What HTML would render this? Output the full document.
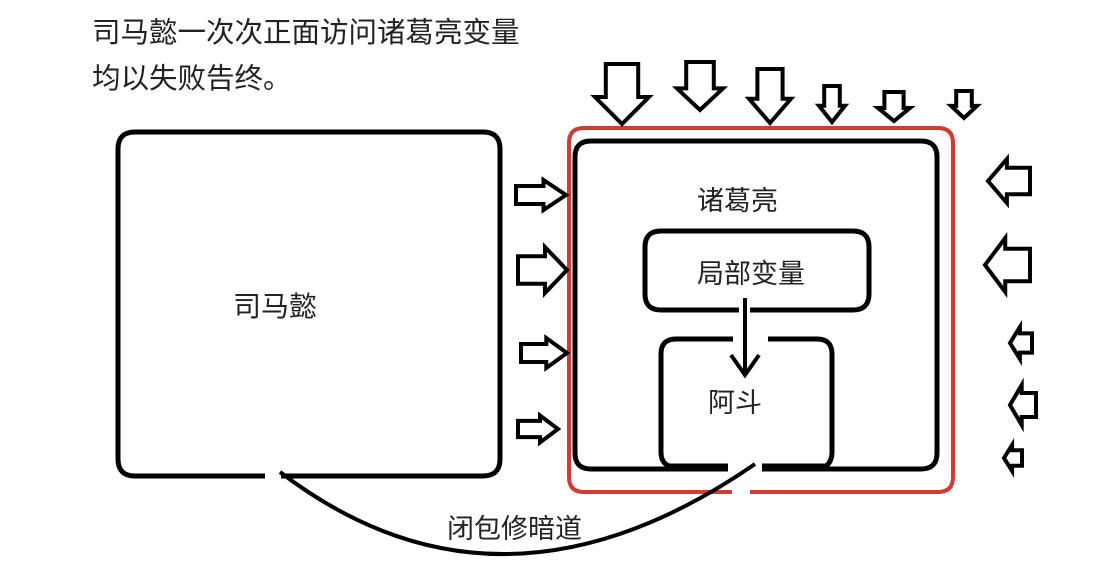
<!DOCTYPE html>
<html><head><meta charset="utf-8"><style>
html,body{margin:0;padding:0;background:#fff;width:1098px;height:587px;overflow:hidden}
text{font-family:"Liberation Sans","Noto Sans CJK SC",sans-serif;fill:#222}
</style></head><body>
<svg width="1098" height="587" viewBox="0 0 1098 587" xmlns="http://www.w3.org/2000/svg">
<defs>
<polygon id="ar" points="0,-0.3 0.55,-0.3 0.55,-0.5 1,0 0.55,0.5 0.55,0.3 0,0.3" fill="#fff" stroke="#000" stroke-width="4" vector-effect="non-scaling-stroke" stroke-linejoin="miter"/>
</defs>
<text x="92" y="42" font-size="28.5">司马懿一次次正面访问诸葛亮变量</text>
<text x="92" y="88" font-size="28.5">均以失败告终。</text>

<!-- left box -->
<path d="M265,476 H135 Q118,476 118,459 V149 Q118,132 135,132 H483 Q500,132 500,149 V459 Q500,476 483,476 H281" fill="none" stroke="#000" stroke-width="5"/>
<text x="275" y="316" font-size="28" text-anchor="middle">司马懿</text>

<!-- red box -->
<path d="M732,492 H584 Q569,492 569,477 V143 Q569,128 584,128 H938 Q953,128 953,143 V477 Q953,492 938,492 H750" fill="none" stroke="#d33a31" stroke-width="4"/>
<!-- black box -->
<path d="M728,469 H591 Q575,469 575,453 V157 Q575,141 591,141 H921 Q937,141 937,157 V453 Q937,469 921,469 H762" fill="none" stroke="#000" stroke-width="5"/>
<line x1="665" y1="467" x2="728" y2="467" stroke="#000" stroke-width="7"/>
<line x1="762" y1="467" x2="825" y2="467" stroke="#000" stroke-width="7"/>
<text x="697" y="210" font-size="27">诸葛亮</text>

<!-- local var box -->
<path d="M739,310 H661 Q645,310 645,294 V247 Q645,231 661,231 H853 Q869,231 869,247 V294 Q869,310 853,310 H750" fill="none" stroke="#000" stroke-width="5"/>
<text x="751" y="283" font-size="27" text-anchor="middle">局部变量</text>

<!-- adou box -->
<path d="M733,339 H676 Q661,339 661,354 V452 Q661,467 676,467 M825,467 Q832,462 832,452 V354 Q832,339 817,339 H768" fill="none" stroke="#000" stroke-width="5"/>
<text x="735" y="412" font-size="27" text-anchor="middle">阿斗</text>

<!-- down arrow -->
<line x1="745" y1="298" x2="745" y2="372" stroke="#000" stroke-width="4"/>
<polyline points="731,355 745,375 759,355" fill="none" stroke="#000" stroke-width="4"/>

<!-- curve -->
<path d="M280,472 Q500,640 755,464" fill="none" stroke="#000" stroke-width="4"/>
<text x="447" y="538" font-size="27">闭包修暗道</text>

<!-- left-side right arrows -->
<use href="#ar" transform="translate(516,195) scale(50,30)"/>
<use href="#ar" transform="translate(518,270) scale(49,46)"/>
<use href="#ar" transform="translate(521,353) scale(46,30)"/>
<use href="#ar" transform="translate(518,429) scale(40,27)"/>

<!-- top down arrows -->
<use href="#ar" transform="translate(622,64) rotate(90) scale(60,54)"/>
<use href="#ar" transform="translate(700,62) rotate(90) scale(48,46)"/>
<use href="#ar" transform="translate(770,69) rotate(90) scale(54,42)"/>
<use href="#ar" transform="translate(832,86) rotate(90) scale(36,26)"/>
<use href="#ar" transform="translate(894,92) rotate(90) scale(29,32)"/>
<use href="#ar" transform="translate(964,91) rotate(90) scale(27,26)"/>

<!-- right-side left arrows -->
<use href="#ar" transform="translate(1030,181) rotate(180) scale(42,44)"/>
<use href="#ar" transform="translate(1030,265) rotate(180) scale(45,54)"/>
<use href="#ar" transform="translate(1032,343) rotate(180) scale(22,32)"/>
<use href="#ar" transform="translate(1036,405) rotate(180) scale(26,40)"/>
<use href="#ar" transform="translate(1022,458) rotate(180) scale(18,26)"/>
</svg>
</body></html>
